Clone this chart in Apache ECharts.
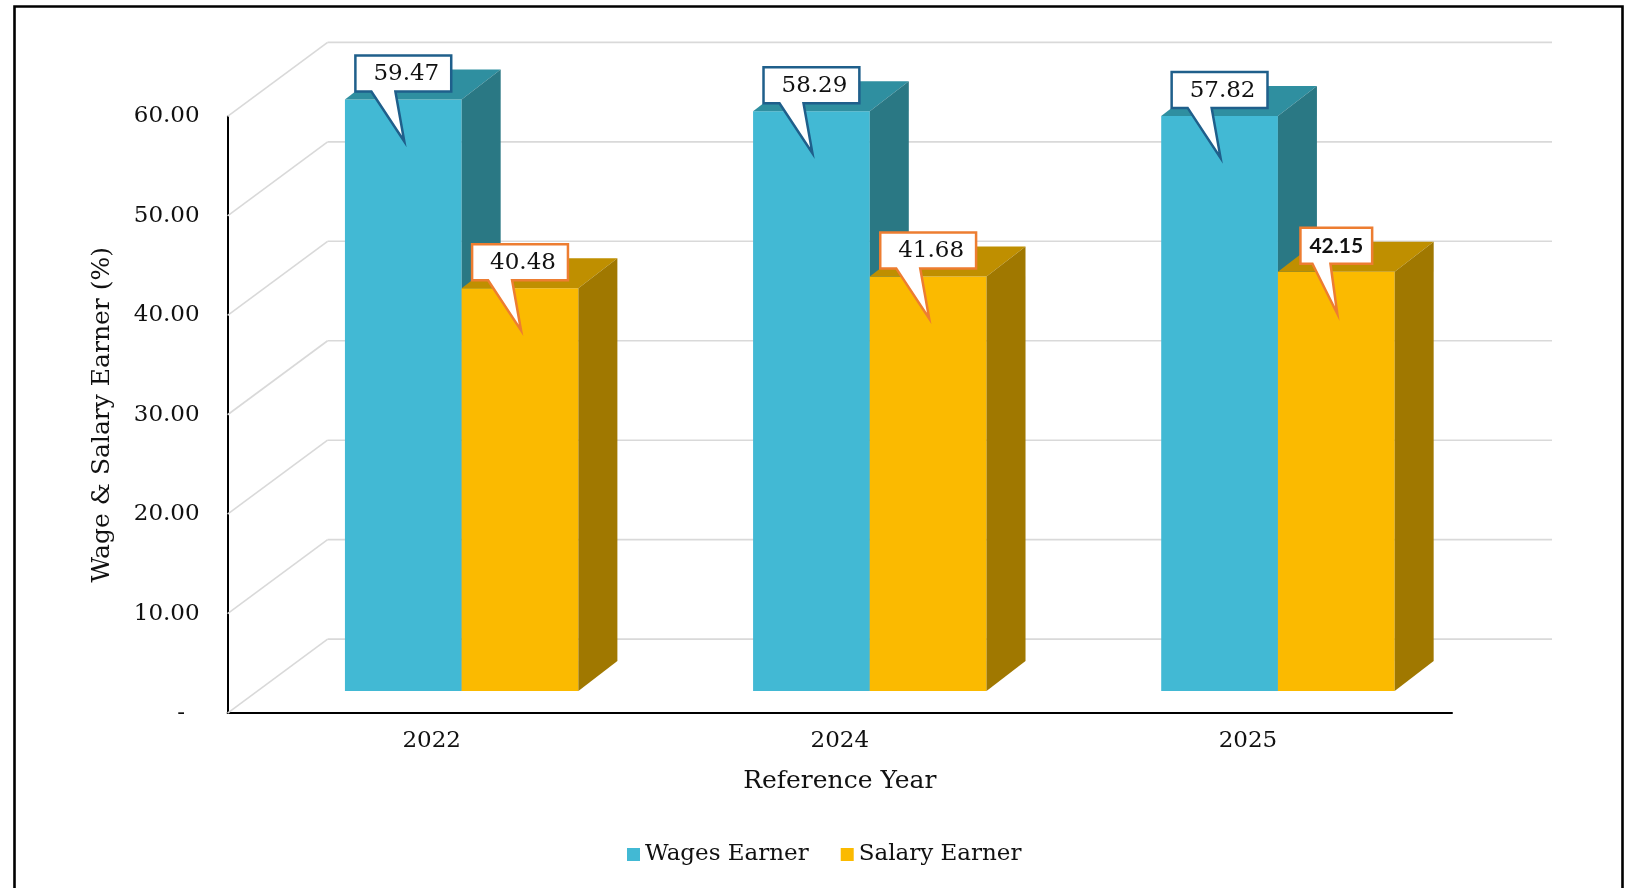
<!DOCTYPE html>
<html><head><meta charset="utf-8">
<script src="https://cdn.jsdelivr.net/npm/echarts@6/dist/echarts.min.js"></script>
<style>html,body{margin:0;padding:0;background:#fff}#c{width:1630px;height:888px}</style>
</head><body><div id="c"></div>
<script>
// ---- data ----
const categories = ['2022', '2024', '2025'];
const wagesEarner = [59.47, 58.29, 57.82];
const salaryEarner = [40.48, 41.68, 42.15];
const yTicks = [0, 10, 20, 30, 40, 50, 60];
const seriesNames = ['Wages Earner', 'Salary Earner'];
const xAxisTitle = 'Reference Year';
const yAxisTitle = 'Wage & Salary Earner (%)';

// ---- style ----
const SERIF = '"DejaVu Serif", serif';
const DEPTH = [100, -74];      // projected depth of the chart box
const BAR_PLANE = 0.3;         // fraction of depth where bar fronts lie
const BAR_DEPTH = [39, -30];   // projected depth of each bar
const BAR_W = 0.286;           // bar width as fraction of category band
const GRID_COLOR = '#D9D9D9';
const pal = [
  {front: '#42B9D4', top: '#2F8FA0', side: '#2A7884', border: '#1F5F8B'},
  {front: '#FBBA00', top: '#BF8F00', side: '#A07800', border: '#ED7D31'}
];

const mctx = document.createElement('canvas').getContext('2d');
function textW(t, font) { mctx.font = font; return mctx.measureText(t).width; }

function barGeom(api, sideIndex) {
  const ci = api.value(0), v = api.value(1);
  const base = api.coord([ci, 0]);
  const top = api.coord([ci, v]);
  const band = api.size([1, 0])[0];
  const w = band * BAR_W;
  const ox = DEPTH[0] * BAR_PLANE, oy = DEPTH[1] * BAR_PLANE;
  const x0 = base[0] + ox + (sideIndex === 0 ? -w : 0);
  return {ci, v, x0, x1: x0 + w, yb: base[1] + oy, yt: top[1] + oy};
}

function barRender(sideIndex) {
  const p = pal[sideIndex];
  return function (params, api) {
    const g = barGeom(api, sideIndex);
    const dx = BAR_DEPTH[0], dy = BAR_DEPTH[1];
    return {type: 'group', children: [
      {type: 'rect', shape: {x: g.x0, y: g.yt, width: g.x1 - g.x0, height: g.yb - g.yt}, style: {fill: p.front}},
      {type: 'polygon', shape: {points: [[g.x0, g.yt], [g.x1, g.yt], [g.x1 + dx, g.yt + dy], [g.x0 + dx, g.yt + dy]]}, style: {fill: p.top}},
      {type: 'polygon', shape: {points: [[g.x1, g.yt], [g.x1 + dx, g.yt + dy], [g.x1 + dx, g.yb + dy], [g.x1, g.yb]]}, style: {fill: p.side}}
    ]};
  };
}

function labelRender(sideIndex) {
  const p = pal[sideIndex];
  return function (params, api) {
    const g = barGeom(api, sideIndex);
    const cx = (g.x0 + g.x1) / 2;
    const txt = g.v.toFixed(2);
    const alt = (sideIndex === 1 && g.ci === 2);
    const font = alt ? 'bold 21px Lato' : '23px ' + SERIF;
    const W = textW(txt, font) + (alt ? 18 : 30);
    const H = 36;
    const L = cx - W / 2, R = L + W, B = g.yt - 8, T = B - H;
    const p1 = L + (alt ? 12 : 16), p2 = L + (alt ? 30 : 40);
    const tip = [cx + 1, g.yt + 42];
    return {type: 'group', children: [
      {type: 'polygon', shape: {points: [[L, T], [R, T], [R, B], [p2, B], tip, [p1, B], [L, B]]},
        style: {fill: '#fff', stroke: p.border, lineWidth: 2.5, lineJoin: 'miter'}},
      {type: 'text', x: cx + (alt ? 0 : 3), y: (T + B) / 2 + 1,
        style: {text: txt, font: font, fill: '#111', align: 'center', verticalAlign: 'middle'}}
    ]};
  };
}

function wallRender(params, api) {
  const v = api.value(1);
  const cs = params.coordSys;
  const y = api.coord([0, v])[1];
  const xl = cs.x, xr = cs.x + cs.width;
  const st = {stroke: GRID_COLOR, lineWidth: 1.6};
  return {type: 'group', children: [
    {type: 'line', shape: {x1: xl, y1: y, x2: xl + DEPTH[0], y2: y + DEPTH[1]}, style: st},
    {type: 'line', shape: {x1: xl + DEPTH[0], y1: y + DEPTH[1], x2: xr + DEPTH[0], y2: y + DEPTH[1]}, style: st}
  ]};
}

const chart = echarts.init(document.getElementById('c'), null, {renderer: 'canvas'});
const seriesData = [wagesEarner, salaryEarner];

const series = [{
  type: 'custom', name: 'walls', silent: true, clip: false, z: 1,
  data: yTicks.map(v => [0, v]), encode: {x: 0, y: 1}, renderItem: wallRender
}];
seriesData.forEach((vals, si) => {
  series.push({
    type: 'custom', name: seriesNames[si], silent: true, clip: false, z: 2 + si,
    itemStyle: {color: pal[si].front},
    data: vals.map((v, i) => [i, v]), encode: {x: 0, y: 1}, renderItem: barRender(si)
  });
});
seriesData.forEach((vals, si) => {
  series.push({
    type: 'custom', name: seriesNames[si] + ' labels', silent: true, clip: false, z: 10,
    data: vals.map((v, i) => [i, v]), encode: {x: 0, y: 1}, renderItem: labelRender(si)
  });
});

chart.setOption({
  animation: false,
  backgroundColor: '#fff',
  graphic: [{type: 'rect', shape: {x: 14.5, y: 6.5, width: 1608, height: 900},
    style: {fill: 'none', stroke: '#000', lineWidth: 2.6}, z: 100}],
  grid: {left: 227.6, right: 178, top: 116.4, bottom: 174.9},
  legend: {
    data: seriesNames, left: 622, top: 838, icon: 'rect', itemWidth: 13, itemHeight: 13, itemGap: 32,
    textStyle: {fontFamily: SERIF, fontSize: 23, color: '#111'}
  },
  xAxis: {
    type: 'category', data: categories,
    axisLine: {lineStyle: {color: '#000', width: 2}}, axisTick: {show: false},
    axisLabel: {fontFamily: SERIF, fontSize: 23, color: '#111', margin: 16},
    name: xAxisTitle, nameLocation: 'middle', nameGap: 56,
    nameTextStyle: {fontFamily: SERIF, fontSize: 25, color: '#111'}
  },
  yAxis: {
    type: 'value', min: 0, max: 60, interval: 10,
    axisLine: {show: true, lineStyle: {color: '#000', width: 2}}, axisTick: {show: false},
    splitLine: {show: false},
    axisLabel: {fontFamily: SERIF, fontSize: 23, color: '#111', margin: 28,
      formatter: v => v === 0 ? '-  ' : v.toFixed(2)},
    name: yAxisTitle, nameLocation: 'middle', nameGap: 113, nameRotate: 90,
    nameTextStyle: {fontFamily: SERIF, fontSize: 25, color: '#111'}
  },
  series: series
});
</script></body></html>
